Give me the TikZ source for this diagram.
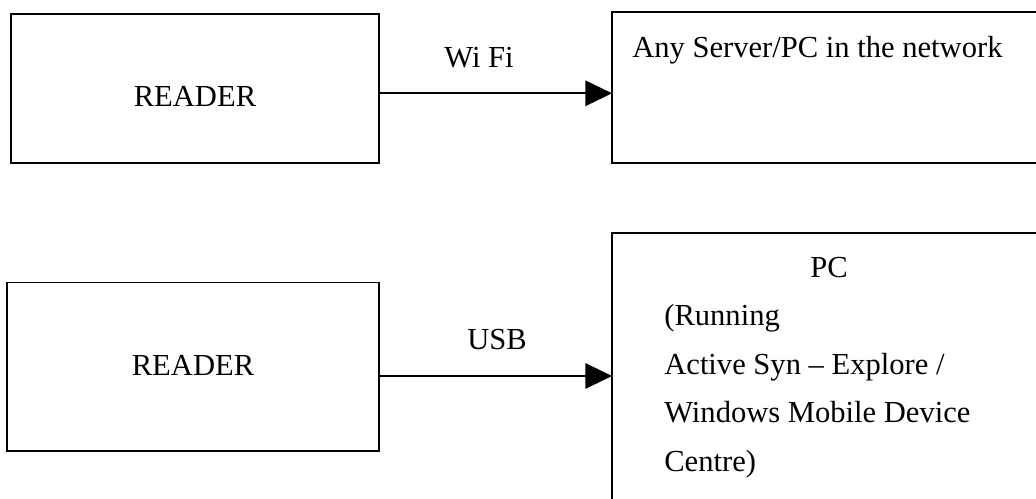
\documentclass[tikz,border=0pt]{standalone}
\usepackage{fontspec}
\setmainfont{Liberation Serif}
\usetikzlibrary{arrows.meta,calc}
\begin{document}
\begin{tikzpicture}[x=0.02cm, y=-0.02cm, >={Triangle[length=15.2pt,width=14.4pt]},
  every node/.style={font=\fontsize{17.4}{20}\selectfont, inner sep=0pt},
  box/.style={draw, line width=1pt, inner sep=0pt, outer sep=0pt},
  conn/.style={->, line width=1.3pt}]
% Frame of the page
\useasboundingbox (0,0) rectangle (1036,499);
\clip (0,0) rectangle (1036,499);
% Reader with Wi Fi
\node [box, minimum width=7.37cm, minimum height=2.98cm] (rdwifi) at (195,88.5) {};
\node [anchor=base] (rdwifitxt) at (195,107) {READER};
\node [box, minimum width=8.66cm, minimum height=3.02cm] (server) at (828.5,87.5) {};
\node [anchor=base west] (servertxt) at (632,58) {Any Server/PC in the network};
\draw [conn] ($(rdwifi.east)+(0,4.8)$) coordinate (wifistart) -- (wifistart -| server.west);
\node [anchor=base] (wifi) at (479,68) {Wi Fi};
% Reader with USB
\node [box, minimum width=7.45cm, minimum height=3.37cm] (rdusb) at (193,366.7) {};
\node [anchor=base] (rdusbtxt) at (193,376) {READER};
\node [box, minimum width=8.66cm, minimum height=5.54cm] (pc) at (828.5,371.5) {};
\node [anchor=base] (pctitle) at (829,278) {PC};
\node [anchor=base west] (pcline1) at (664,326) {(Running};
\node [anchor=base west] (pcline2) at (664,375) {Active Syn -- Explore /};
\node [anchor=base west] (pcline3) at (664,423) {Windows Mobile Device};
\node [anchor=base west] (pcline4) at (664,472) {Centre)};
\draw [conn] ($(rdusb.east)+(0,9.3)$) coordinate (usbstart) -- (usbstart -| pc.west);
\node [anchor=base] (usb) at (497,350) {USB};
\end{tikzpicture}
\end{document}
